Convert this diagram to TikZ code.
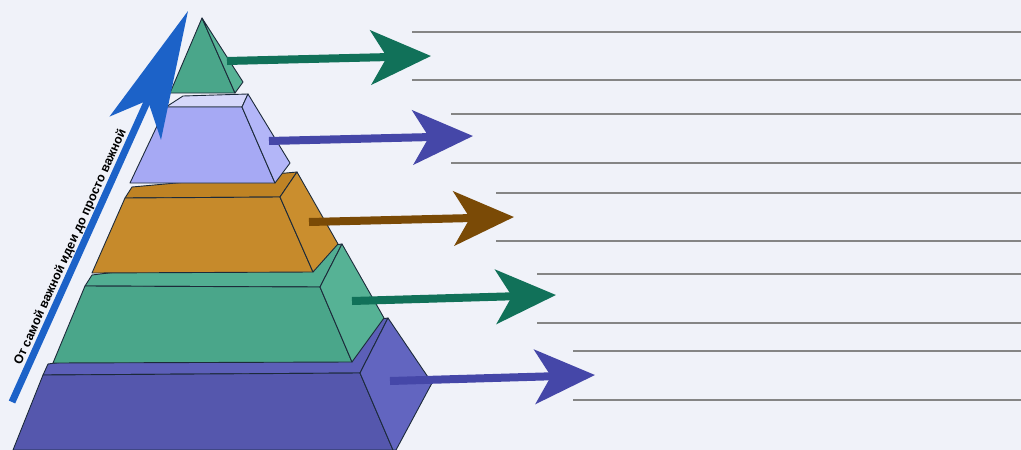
\documentclass[tikz,border=0pt]{standalone}
\usepackage{fontspec}
\setsansfont{Liberation Sans}
\usetikzlibrary{arrows.meta}

\definecolor{bgpaper}{HTML}{F0F2F9}
\definecolor{edgecol}{HTML}{1C2A3A}
\definecolor{rulegray}{HTML}{858585}
\definecolor{blueF}{HTML}{5557AD}
\definecolor{blueT}{HTML}{5C5FB8}
\definecolor{blueS}{HTML}{6265C0}
\definecolor{greenF}{HTML}{4AA68A}
\definecolor{greenT}{HTML}{52AE92}
\definecolor{greenS}{HTML}{56B295}
\definecolor{brownF}{HTML}{C68A2B}
\definecolor{brownT}{HTML}{BF8324}
\definecolor{brownS}{HTML}{CA8E2E}
\definecolor{lilacF}{HTML}{A6A9F4}
\definecolor{lilacT}{HTML}{D6D8FA}
\definecolor{lilacS}{HTML}{B3B6F8}
\definecolor{arrGreen}{HTML}{117159}
\definecolor{arrBlue}{HTML}{4547A8}
\definecolor{arrBrown}{HTML}{7A4A06}
\definecolor{bigBlue}{HTML}{1C62C8}

\begin{document}
\begin{tikzpicture}[
  x=1pt, y=-1pt,
  face/.style={draw=edgecol, line width=0.9pt, line join=round},
  ruleline/.style={rulegray, line width=1.4pt},
  pointer/.style={line width=8pt, -{Stealth[length=60pt, width=54pt, inset=16pt]}},
  climb/.style={bigBlue, line width=7pt, -{Stealth[length=128pt, width=56pt, inset=30pt]}}
]
\useasboundingbox[fill=bgpaper] (0,0) rectangle (1021,450);

% bottom block
\draw[face, fill=blueT] (43,375) -- (360,373) -- (388,318) -- (48,364) -- cycle;
\draw[face, fill=blueF] (43,375) -- (360,373) -- (393,450) -- (13,450) -- cycle;
\draw[face, fill=blueS] (360,373) -- (388,318) -- (432,383) -- (396,450) -- (393,450) -- cycle;

% second block
\draw[face, fill=greenT] (85,286) -- (320,287) -- (342,244) -- (92,275) -- cycle;
\draw[face, fill=greenF] (85,286) -- (320,287) -- (352,362) -- (53,363) -- cycle;
\draw[face, fill=greenS] (320,287) -- (342,244) -- (384,318) -- (352,362) -- cycle;

% middle block
\draw[face, fill=brownT] (125,198) -- (280,197) -- (297,172) -- (132,187) -- cycle;
\draw[face, fill=brownF] (125,198) -- (280,197) -- (313,272) -- (92,273) -- cycle;
\draw[face, fill=brownS] (280,197) -- (297,172) -- (338,244) -- (313,272) -- cycle;

% fourth block
\draw[face, fill=lilacT] (166,107) -- (242,107) -- (248,94) -- (183,96) -- cycle;
\draw[face, fill=lilacF] (166,107) -- (242,107) -- (275,183) -- (130,183) -- cycle;
\draw[face, fill=lilacS] (242,107) -- (248,94) -- (290,163) -- (275,183) -- cycle;

% top
\draw[face, fill=greenF] (202,18) -- (170,93) -- (235,93) -- cycle;
\draw[face, fill=greenS] (202,18) -- (235,93) -- (243,82) -- cycle;

% writing lines
\foreach \ya/\yb/\xs in {32/80/412, 114/163/451, 193/241/496, 274/323/537, 351/400/573}{
  \draw[ruleline] (\xs,\ya) -- (1021,\ya);
  \draw[ruleline] (\xs,\yb) -- (1021,\yb);
}

% level arrows
\foreach \n/\sx/\sy/\tx/\ty/\c in {1/227/61/431/56/arrGreen, 2/269/141/473/136/arrBlue,
    3/309/222/514/217/arrBrown, 4/352/301/556/295/arrGreen, 5/390/381/595/375/arrBlue}{
  \coordinate (s\n) at (\sx,\sy);
  \coordinate (t\n) at (\tx,\ty);
  \draw[pointer, \c] (s\n) -- (t\n);
}

% importance arrow
\coordinate (low) at (12,402);
\coordinate (high) at (188,11);
\draw[climb] (low) -- (high);
\path (low) -- (high) node[pos=0.385, sloped, above=4pt, inner sep=0pt]
  {\sffamily\bfseries\fontsize{12.5}{12.5}\selectfont От самой важной идеи до просто важной};
\end{tikzpicture}
\end{document}
